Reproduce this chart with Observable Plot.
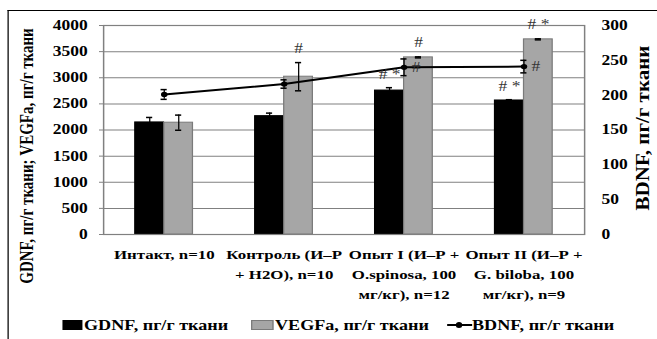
<!DOCTYPE html>
<html><head><meta charset="utf-8">
<script src="https://cdn.jsdelivr.net/npm/d3@7"></script>
<script src="https://cdn.jsdelivr.net/npm/@observablehq/plot@0.6"></script>
<style>
html,body{margin:0;padding:0;background:#fff;overflow:hidden;width:657px;height:339px}
#wrap{position:absolute;left:0;top:0;width:526px;height:339px;transform-origin:0 0;font-family:"Liberation Serif","Times New Roman",serif;}
#frame{position:absolute;left:5.6px;top:9.5px;width:560px;height:400px;border-top:1.5px solid #000;border-left:1.5px solid #000;}
#chart{position:absolute;left:0;top:0}
.vt{position:absolute;white-space:nowrap;font-weight:bold;}
.lg{position:absolute;white-space:nowrap;font-weight:bold;font-size:14.5px;line-height:18px;}
.sw{position:absolute;box-sizing:border-box;}
</style></head>
<body>
<div id="wrap">
  <div id="frame"></div>
  <div id="chart"></div>
</div>
<script>
const categories = ["Интакт, n=10", "Контроль (И–Р + H2O), n=10", "Опыт I (И–Р + O.spinosa, 100 мг/кг), n=12", "Опыт II (И–Р + G. biloba, 100 мг/кг), n=9"];
const categoryLines = ["Интакт, n=10", "Контроль (И–Р\n+ H2O), n=10", "Опыт I (И–Р +\nO.spinosa, 100\nмг/кг), n=12", "Опыт II (И–Р +\nG. biloba, 100\nмг/кг), n=9"];
const gdnf = [2145, 2265, 2755, 2565];
const gdnfErr = [95, 58, 55, 15];
const vegfa = [2140, 3020, 3390, 3735];
const vegfaErr = [145, 270, 10, 10];
const bdnf = [201, 216, 240, 241];
const bdnfErr = [7, 6, 12, 9];
const leftTicks = [0, 500, 1000, 1500, 2000, 2500, 3000, 3500, 4000];
const rightTicks = [0, 50, 100, 150, 200, 250, 300];
const annCategory = [1, 2, 2, 2, 3, 3, 3];
const annSeries = ["VEGFa", "GDNF", "VEGFa", "BDNF", "GDNF", "VEGFa", "BDNF"];
const annText = ["#", "# *", "#", "#", "# *", "# *", "#"];
const seriesNames = ["GDNF, пг/г ткани", "VEGFa, пг/г ткани", "BDNF, пг/г ткани"];
const leftTitle = "GDNF, пг/г ткани; VEGFa, пг/г ткани";
const rightTitle = "BDNF, пг/г ткани";

const W = 526, H = 310;
const sx = 657 / W;
document.getElementById("wrap").style.transform = `scaleX(${sx})`;
const mL = 103 / sx, mR = (657 - 584) / sx, mT = 25, mB = H - 234;
const bw = (W - mL - mR) / categories.length;
const barW = 29 / sx;
const cap = 2.6;
const k = 4000 / 300;

const gRows = categories.map((c, i) => ({c, v: gdnf[i], e: gdnfErr[i]}));
const vRows = categories.map((c, i) => ({c, v: vegfa[i], e: vegfaErr[i]}));
const bRows = categories.map((c, i) => ({c, v: bdnf[i] * k, e: bdnfErr[i] * k}));
const ann = annCategory.map((ci, j) => {
  const s = annSeries[j];
  const src = s === "GDNF" ? gRows : s === "VEGFa" ? vRows : bRows;
  const r = src[ci];
  return {c: categories[ci], s, y: s === "BDNF" ? r.v : r.v + r.e, t: annText[j]};
});
const annG = ann.filter(d => d.s === "GDNF"), annV = ann.filter(d => d.s === "VEGFa"), annB = ann.filter(d => d.s === "BDNF");

function errMarks(rows, off) {
  return [
    Plot.ruleX(rows, {x: "c", y1: d => d.v - d.e, y2: d => d.v + d.e, dx: off, stroke: "#000", strokeWidth: 1}),
    Plot.tickY(rows, {x: "c", y: d => d.v + d.e, insetLeft: bw / 2 + off - cap, insetRight: bw / 2 - off - cap, stroke: "#000", strokeWidth: 1.5}),
    Plot.tickY(rows, {x: "c", y: d => d.v - d.e, insetLeft: bw / 2 + off - cap, insetRight: bw / 2 - off - cap, stroke: "#000", strokeWidth: 1.5})
  ];
}

const chart = Plot.plot({
  width: W, height: H,
  marginLeft: mL, marginRight: mR, marginTop: mT, marginBottom: mB,
  style: {fontFamily: "'Liberation Serif', 'Times New Roman', serif", background: "transparent", overflow: "visible"},
  x: {type: "band", domain: categories, padding: 0, axis: null},
  y: {domain: [0, 4000], axis: null},
  marks: [
    Plot.gridY(leftTicks, {stroke: "#808080", strokeOpacity: 1, strokeWidth: 1}),
    Plot.axisY(leftTicks, {anchor: "left", tickSize: 4 / sx, tickPadding: 12 / sx, tickFormat: d => String(d), stroke: "#808080", fill: "#000", fontSize: 14, fontWeight: "bold", label: null}),
    Plot.axisY(rightTicks.map(v => v * k), {anchor: "right", tickSize: 0, tickPadding: 17 / sx, tickFormat: d => String(Math.round(d / k)), fill: "#000", fontSize: 14, fontWeight: "bold", label: null}),
    Plot.barY(gRows, {x: "c", y: "v", fill: "#000", stroke: "#000", insetLeft: bw / 2 - barW, insetRight: bw / 2}),
    Plot.barY(vRows, {x: "c", y: "v", fill: "#a6a6a6", stroke: "#7a7a7a", strokeWidth: 1, insetLeft: bw / 2, insetRight: bw / 2 - barW}),
    Plot.frame({stroke: "#808080", strokeWidth: 1.2}),
    ...errMarks(gRows, -barW / 2),
    ...errMarks(vRows, barW / 2),
    Plot.line(bRows, {x: "c", y: "v", stroke: "#000", strokeWidth: 2}),
    ...errMarks(bRows, 0),
    Plot.dot(bRows, {x: "c", y: "v", r: 2.6, fill: "#000", stroke: "none"}),
    Plot.text(annG, {x: "c", y: "y", text: "t", dx: -barW / 2, dy: -13, fontSize: 14, fill: "#333"}),
    Plot.text(annV, {x: "c", y: "y", text: "t", dx: barW / 2, dy: -14, fontSize: 14, fill: "#333"}),
    Plot.text(annB, {x: "c", y: "y", text: "t", dx: 12 / sx, dy: 0, fontSize: 14, fill: "#333"}),
    Plot.text(categories, {x: d => d, text: (d, i) => categoryLines[i], frameAnchor: "bottom", lineAnchor: "top", dy: 10, lineHeight: 1.48, fontSize: 13.5, fontWeight: "bold", fill: "#000"})
  ]
});
document.getElementById("chart").appendChild(chart);

const wrap = document.getElementById("wrap");
function add(html) { const t = document.createElement("div"); t.innerHTML = html; const el = t.firstChild; wrap.appendChild(el); return el; }
add(`<div class="vt" style="left:${27 / sx}px;top:156px;font-size:15px;transform:translate(-50%,-50%) rotate(-90deg)">${leftTitle}</div>`);
add(`<div class="vt" style="left:${643 / sx}px;top:128px;font-size:15px;transform:translate(-50%,-50%) rotate(-90deg) scaleX(1.4)">${rightTitle}</div>`);
const ly = 325;
add(`<div class="sw" style="left:${62 / sx}px;top:${ly - 5}px;width:${21 / sx}px;height:10px;background:#000"></div>`);
add(`<div class="lg" style="left:${84 / sx}px;top:${ly - 9}px">${seriesNames[0]}</div>`);
add(`<div class="sw" style="left:${251 / sx}px;top:${ly - 5}px;width:${22 / sx}px;height:10px;background:#a6a6a6;border:1px solid #7a7a7a"></div>`);
add(`<div class="lg" style="left:${275 / sx}px;top:${ly - 9}px">${seriesNames[1]}</div>`);
add(`<div class="sw" style="left:${447 / sx}px;top:${ly - 1}px;width:${25 / sx}px;height:2px;background:#000"></div>`);
add(`<div class="sw" style="left:${(459 / sx) - 2.4}px;top:${ly - 2.6}px;width:5.2px;height:5.2px;border-radius:50%;background:#000"></div>`);
add(`<div class="lg" style="left:${472 / sx}px;top:${ly - 9}px">${seriesNames[2]}</div>`);
</script>
</body></html>
